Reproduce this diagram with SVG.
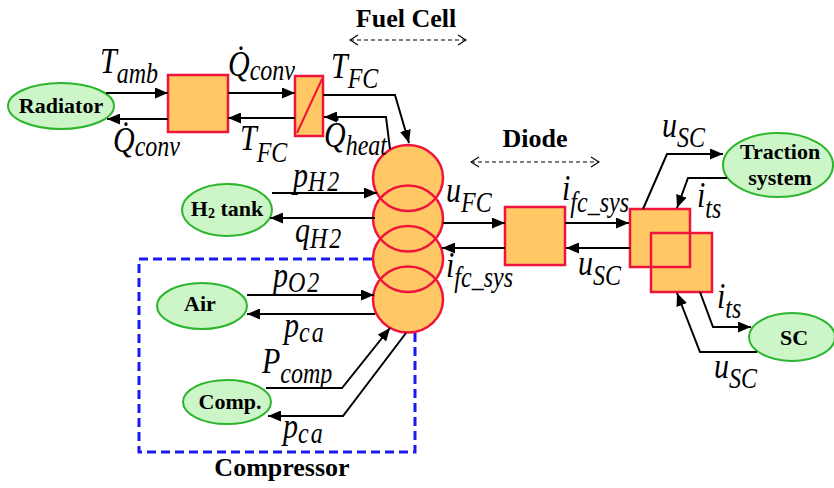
<svg xmlns="http://www.w3.org/2000/svg" width="834" height="488" viewBox="0 0 834 488">
<defs>
<style>
.m{font-family:"Liberation Serif","Times New Roman",serif;font-style:italic;font-size:30px;fill:#000}
.s{font-size:24px}
.w{letter-spacing:2px}
.b{font-family:"Liberation Serif","Times New Roman",serif;font-weight:bold;font-size:26px;fill:#000;text-anchor:middle}
.nt{font-family:"Liberation Serif","Times New Roman",serif;font-weight:bold;font-size:22px;fill:#000;text-anchor:middle}
.ell{fill:#CCF5C8;stroke:#2DB52D;stroke-width:2}
.blk{fill:#FFC864}
.red{fill:none;stroke:#F0143C;stroke-width:2.5}
.c{fill:none;stroke:#000;stroke-width:2;marker-end:url(#ah)}
.d{fill:none;stroke:#000;stroke-width:1.2;stroke-dasharray:4,3;marker-start:url(#oh);marker-end:url(#oh)}
</style>
<marker id="ah" markerUnits="userSpaceOnUse" markerWidth="13" markerHeight="11" refX="13" refY="5.5" orient="auto">
<path d="M0,0 L13,5.5 L0,11 z" fill="#000"/>
</marker>
<marker id="oh" markerUnits="userSpaceOnUse" markerWidth="10" markerHeight="12" refX="9" refY="6" orient="auto-start-reverse">
<path d="M1,1 L9,6 L1,11" fill="none" stroke="#000" stroke-width="1.2"/>
</marker>
</defs>
<rect width="834" height="488" fill="#fff"/>

<!-- Compressor dashed frame -->
<g id="compressor-frame">
<rect x="139" y="259" width="276" height="193" fill="none" stroke="#1A1AF0" stroke-width="3" stroke-dasharray="9,5"/>
<text class="b" x="282" y="476">Compressor</text>
</g>

<!-- Fuel cell stack -->
<g id="fuel-cell">
<ellipse class="blk" cx="408" cy="178" rx="35" ry="33"/>
<ellipse class="blk" cx="408" cy="218.5" rx="35" ry="33"/>
<ellipse class="blk" cx="408" cy="259" rx="35" ry="33"/>
<ellipse class="blk" cx="408" cy="299.5" rx="35" ry="33"/>
<ellipse class="red" cx="408" cy="178" rx="35" ry="33"/>
<ellipse class="red" cx="408" cy="218.5" rx="35" ry="33"/>
<ellipse class="red" cx="408" cy="259" rx="35" ry="33"/>
<ellipse class="red" cx="408" cy="299.5" rx="35" ry="33"/>
<text class="b" x="406" y="27">Fuel Cell</text>
<path class="d" d="M350,40 L466,40"/>
</g>

<g id="radiator">
<ellipse class="ell" cx="61" cy="106" rx="53" ry="23"/>
<text class="nt" x="61" y="113">Radiator</text>
</g>
<g id="block1">
<rect class="blk" x="168" y="75" width="60" height="57"/>
<rect class="red" x="168" y="75" width="60" height="57"/>
</g>
<g id="block2">
<rect class="blk" x="295" y="76" width="28" height="60"/>
<rect class="red" x="295" y="76" width="28" height="60"/>
<path d="M297,133 L322,79" stroke="#F0143C" stroke-width="2" fill="none"/>
</g>
<g id="h2tank">
<ellipse class="ell" cx="227" cy="210" rx="45" ry="26"/>
<text class="nt" x="227" y="216">H<tspan font-size="14px" dy="2">2</tspan><tspan dy="-2"> tank</tspan></text>
</g>
<g id="air">
<ellipse class="ell" cx="202" cy="306" rx="45" ry="23"/>
<text class="nt" x="200" y="311">Air</text>
</g>
<g id="comp">
<ellipse class="ell" cx="227" cy="402" rx="44" ry="22"/>
<text class="nt" x="230" y="409">Comp.</text>
</g>
<g id="diode">
<rect class="blk" x="505" y="207" width="60" height="58"/>
<rect class="red" x="505" y="207" width="60" height="58"/>
<text class="b" x="535" y="147">Diode</text>
<path class="d" d="M471,162 L599,162"/>
</g>
<g id="dcdc">
<rect class="blk" x="630" y="209" width="60" height="58"/>
<rect class="blk" x="651" y="233" width="61" height="59"/>
<rect class="red" x="630" y="209" width="60" height="58"/>
<rect class="red" x="651" y="233" width="61" height="59"/>
</g>
<g id="traction">
<ellipse class="ell" cx="778" cy="165" rx="55" ry="32"/>
<text class="nt" x="780" y="159">Traction</text>
<text class="nt" x="780" y="185">system</text>
</g>
<g id="sc">
<ellipse class="ell" cx="792" cy="337" rx="43" ry="24"/>
<text class="nt" x="794" y="345">SC</text>
</g>

<!-- connectors -->
<g id="connectors">
<path class="c" d="M106,93 L168,93"/>
<path class="c" d="M168,119 L107,119"/>
<path class="c" d="M228,93 L295,93"/>
<path class="c" d="M295,118 L228,118"/>
<path class="c" d="M323,95 L395,95 L409,143"/>
<path class="c" d="M390,149 L386,117 L324,117"/>
<path class="c" d="M272,193 L377,193"/>
<path class="c" d="M375,218 L270,218"/>
<path class="c" d="M247,295 L374,295"/>
<path class="c" d="M375,314 L247,314"/>
<path class="c" d="M266,388 L342,388 L390,328"/>
<path class="c" d="M406,333 L343,416 L268,416"/>
<path class="c" d="M443,223 L505,223"/>
<path class="c" d="M505,248 L442,248"/>
<path class="c" d="M565,223 L629,223"/>
<path class="c" d="M630,248 L566,248"/>
<path class="c" d="M643,209 L667,154 L723,154"/>
<path class="c" d="M727,178 L688,178 L677,208"/>
<path class="c" d="M700,292 L713,327 L751,327"/>
<path class="c" d="M757,352 L700,352 L677,293"/>
</g>

<!-- labels -->
<g id="labels">
<text class="m" transform="translate(100,73) scale(1,1.2)">T<tspan class="s" dy="8">amb</tspan></text>
<text class="m" transform="translate(113,152) scale(1,1.2)">Q̇<tspan class="s" dy="3">conv</tspan></text>
<text class="m" transform="translate(228,76) scale(1,1.2)">Q̇<tspan class="s" dy="3">conv</tspan></text>
<text class="m" transform="translate(240,150) scale(1,1.2)">T<tspan class="s" dy="10">FC</tspan></text>
<text class="m" transform="translate(331,78) scale(1,1.2)">T<tspan class="s" dy="8">FC</tspan></text>
<text class="m" transform="translate(324,147) scale(1,1.2)">Q̇<tspan class="s" dy="7">heat</tspan></text>
<text class="m" transform="translate(293,187) scale(1,1.2)">p<tspan class="s w" dy="3">H2</tspan></text>
<text class="m" transform="translate(295,242) scale(1,1.2)">q<tspan class="s w" dy="5">H2</tspan></text>
<text class="m" transform="translate(273,287) scale(1,1.2)">p<tspan class="s w" dy="4">O2</tspan></text>
<text class="m" transform="translate(284,337) scale(1,1.2)">p<tspan class="s w" dy="4">ca</tspan></text>
<text class="m" transform="translate(262,373) scale(1,1.2)">P<tspan class="s" dy="8">comp</tspan></text>
<text class="m" transform="translate(283,438) scale(1,1.2)">p<tspan class="s w" dy="4">ca</tspan></text>
<text class="m" transform="translate(446,202) scale(1,1.2)">u<tspan class="s" dy="8">FC</tspan></text>
<text class="m" transform="translate(446,277) scale(1,1.2)">i<tspan class="s" dy="8">fc_sys</tspan></text>
<text class="m" transform="translate(562,200) scale(1,1.2)">i<tspan class="s" dy="10">fc_sys</tspan></text>
<text class="m" transform="translate(578,275) scale(1,1.2)">u<tspan class="s" dy="8">SC</tspan></text>
<text class="m" transform="translate(662,137) scale(1,1.2)">u<tspan class="s" dy="8">SC</tspan></text>
<text class="m" transform="translate(697,207) scale(1,1.2)">i<tspan class="s" dy="9">ts</tspan></text>
<text class="m" transform="translate(717,308) scale(1,1.2)">i<tspan class="s" dy="8">ts</tspan></text>
<text class="m" transform="translate(714,378) scale(1,1.2)">u<tspan class="s" dy="8">SC</tspan></text>
</g>
</svg>
